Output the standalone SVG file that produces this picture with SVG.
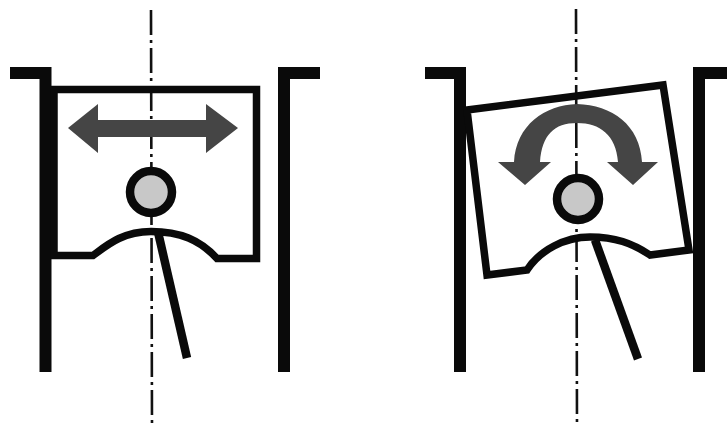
<svg xmlns="http://www.w3.org/2000/svg" width="727" height="431" viewBox="0 0 727 431">
<style>
.k{fill:none;stroke:#0a0a0a;stroke-linejoin:miter}
.c{stroke-width:12}
.p{stroke-width:7.5}
.r{stroke-width:8.5}
.a{fill:none;stroke:#111;stroke-width:2.6;stroke-dasharray:25 5 3 5}
.g{fill:#c8c8c8;stroke:#0a0a0a;stroke-width:8.5}
.d{fill:#454545}
</style>
<rect width="727" height="431" fill="#fff"/>
<g id="connectors">
<path class="a" d="M151 10L152 428"/>
<path class="a" d="M576 9L577 427"/>
</g>
<g id="left-cylinder">
<path class="k c" d="M45.500 372V73H10"/>
<path class="k c" d="M284 372V73H320"/>
</g>
<g id="left-piston">
<path class="k p" d="M54 89.500H256.500V258.500H217C200 240 180 231.500 151 231.500C122 231.500 106 246 93 255.500H54V89.500Z"/>
<path class="k r" d="M158 232L187 358"/>
<circle class="g" cx="151" cy="192" r="21"/>
<path class="d" d="M68 128L98 104V120H206V104L238 128L206 153V137H98V153Z"/>
</g>
<g id="right-cylinder">
<path class="k c" d="M460 372V73H425"/>
<path class="k c" d="M699 372V73H727"/>
</g>
<g id="right-piston">
<path class="k p" d="M467 110L663 85L689 250L650 255C632 243 615 237 590 237C565 237 540 250 527 270L487 275Z"/>
<path class="k r" d="M595 240L638 359"/>
<circle class="g" cx="578" cy="199" r="21"/>
<path class="d" d="M498 162H514C516 125 545 105 577 104C612 105 640 125 642 162H658L633 185L607 162H618C616 135 600 123 577 123C554 123 542 135 540 162H551L525 185Z"/>
</g>
</svg>
